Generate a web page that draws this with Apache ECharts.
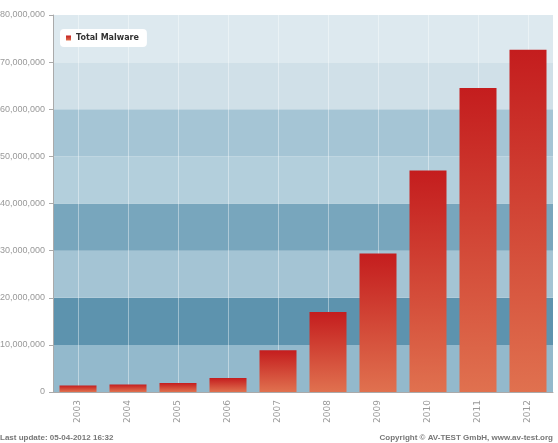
<!DOCTYPE html>
<html>
<head>
<meta charset="utf-8">
<script src="https://cdn.jsdelivr.net/npm/echarts@6/dist/echarts.min.js"></script>
<style>
  html, body { margin: 0; padding: 0; background: #fff; }
  #chart { width: 558px; height: 443px; }
</style>
</head>
<body>
<div id="chart"></div>
<script>
var years = ['2003', '2004', '2005', '2006', '2007', '2008', '2009', '2010', '2011', '2012'];
var totalMalware = [1400000, 1600000, 1900000, 2950000, 8850000, 17000000, 29400000, 47000000, 64500000, 72600000];
var bandColors = ['#93b9cc', '#5d93ae', '#a4c4d4', '#78a6bd', '#b3cfdc', '#a5c5d5', '#d0e0e8', '#dde9ef'];

function fmt(v) {
  return String(v).replace(/\B(?=(\d{3})+(?!\d))/g, ',');
}

// vertical grid lines run through the middle of each category
var centerLines = years.map(function (y) { return { xAxis: y }; });

var chart = echarts.init(document.getElementById('chart'));

var option = {
  animation: false,
  backgroundColor: '#fff',
  grid: { left: 53, right: 5, top: 15, bottom: 51, outerBoundsMode: 'none' },
  legend: {
    left: 60,
    top: 29,
    backgroundColor: '#fff',
    borderRadius: 4,
    padding: [5, 8, 5, 6],
    icon: 'rect',
    itemWidth: 5,
    itemHeight: 5,
    itemGap: 4,
    textStyle: { fontSize: 8, fontWeight: 'bold', color: '#333', fontFamily: 'DejaVu Sans' },
    data: ['Total Malware']
  },
  xAxis: {
    type: 'category',
    data: years,
    axisLine: { lineStyle: { color: '#aaa' } },
    axisTick: { alignWithLabel: true, length: 4, lineStyle: { color: '#aaa' } },
    axisLabel: { rotate: 90, fontSize: 9, color: '#999', margin: 8, fontFamily: 'DejaVu Sans' },
    splitLine: { show: false }
  },
  yAxis: {
    type: 'value',
    min: 0,
    max: 80000000,
    interval: 10000000,
    axisLine: { show: true, lineStyle: { color: '#aaa' } },
    axisTick: { show: true, length: 4, lineStyle: { color: '#aaa' } },
    axisLabel: { fontSize: 9, color: '#999', margin: 8, fontFamily: 'Liberation Sans', formatter: fmt },
    splitLine: { show: false },
    splitArea: { show: true, areaStyle: { color: bandColors } }
  },
  series: [
    {
      name: 'grid',
      type: 'bar',
      data: [],
      z: 1,
      markLine: {
        silent: true,
        z: 1,
        symbol: 'none',
        label: { show: false },
        lineStyle: { type: 'solid', width: 1, color: 'rgba(255,255,255,0.4)' },
        data: centerLines
      }
    },
    {
      name: 'Total Malware',
      type: 'bar',
      data: totalMalware,
      z: 3,
      barGap: '-100%',
      barCategoryGap: '26%',
      itemStyle: {
        color: new echarts.graphic.LinearGradient(0, 0, 0, 1, [
          { offset: 0, color: '#c41d1e' },
          { offset: 1, color: '#e0714f' }
        ])
      }
    }
  ],
  graphic: [
    {
      type: 'text', left: 0, top: 434,
      style: { text: 'Last update: 05-04-2012 16:32', fontSize: 8, fontWeight: 'bold', fill: '#777', fontFamily: 'Liberation Sans' }
    },
    {
      type: 'text', right: 5, top: 434,
      style: { text: 'Copyright \u00a9 AV-TEST GmbH, www.av-test.org', fontSize: 8, fontWeight: 'bold', fill: '#777', fontFamily: 'Liberation Sans' }
    }
  ]
};

chart.setOption(option);
</script>
</body>
</html>
